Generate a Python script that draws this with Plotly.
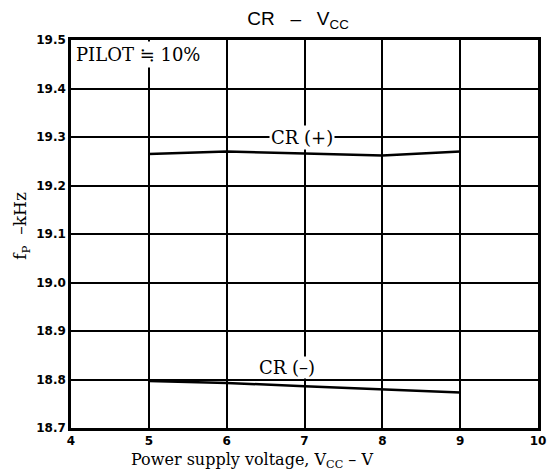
import plotly.graph_objects as go

# Supply voltage (V) and oscillation frequency f_P (kHz) for each CR setting
vcc = [5, 6, 7, 8, 9]
cr_plus = [19.265, 19.270, 19.266, 19.262, 19.270]
cr_minus = [18.797, 18.793, 18.786, 18.780, 18.773]

x_ticks = [4, 5, 6, 7, 8, 9, 10]
y_ticks = [18.7, 18.8, 18.9, 19.0, 19.1, 19.2, 19.3, 19.4, 19.5]

serif = "DejaVu Serif, Liberation Serif, serif"
sans = "DejaVu Sans, Liberation Sans, sans-serif"

fig = go.Figure()
for ys in (cr_plus, cr_minus):
    fig.add_trace(go.Scatter(x=vcc, y=ys, mode="lines",
                             line=dict(color="black", width=2.5),
                             showlegend=False, hoverinfo="skip"))

fig.update_layout(
    width=554, height=472,
    margin=dict(l=71, r=8, t=40, b=44),
    paper_bgcolor="white", plot_bgcolor="white",
    title=dict(text="CR   –   V<sub>CC</sub>", x=0.486,
               xanchor="center", xref="paper", y=0.975, yanchor="top",
               font=dict(family="Liberation Sans, Arial, sans-serif", size=19, color="black")),
    xaxis=dict(range=[4, 10], tickvals=x_ticks, ticktext=[str(v) for v in x_ticks],
               showgrid=True, gridcolor="black", gridwidth=2,
               showline=True, linecolor="black", linewidth=2.5, mirror=True,
               zeroline=False, ticks="", ticklen=0,
               tickfont=dict(family=sans, size=12, color="black", weight="bold")),
    yaxis=dict(range=[18.7, 19.5], tickvals=y_ticks,
               ticktext=[f"{v:.1f}" for v in y_ticks],
               showgrid=True, gridcolor="black", gridwidth=2,
               showline=True, linecolor="black", linewidth=2.5, mirror=True,
               zeroline=False, ticks="", ticklen=0,
               tickfont=dict(family=sans, size=12, color="black", weight="bold")),
)

# Axis titles
fig.add_annotation(text="Power supply voltage, V<sub>CC</sub> – V",
                   xref="paper", yref="paper", x=0.387, y=0,
                   xanchor="center", yanchor="top", yshift=-20, showarrow=False,
                   font=dict(family=serif, size=16, color="black"))
fig.add_annotation(text="f<sub>P</sub>  –kHz", xref="paper", yref="paper",
                   x=0, y=0.521, xanchor="center", yanchor="middle", xshift=-49,
                   textangle=-90, showarrow=False,
                   font=dict(family=serif, size=17, color="black"))

# In-plot labels
fig.add_annotation(text="PILOT ≒ 10%", x=4.03, y=19.5, xanchor="left", yanchor="top",
                   yshift=-1, showarrow=False, bgcolor="white", borderpad=2,
                   font=dict(family=serif, size=18, color="black"))
fig.add_annotation(text="CR (+)", x=6.97, y=19.3, xanchor="center", yanchor="middle",
                   showarrow=False, bgcolor="white", borderpad=1,
                   font=dict(family=serif, size=18, color="black"))
fig.add_annotation(text="CR (–)", x=6.78, y=18.8, xanchor="center", yanchor="bottom",
                   yshift=1, showarrow=False, bgcolor="white", borderpad=0,
                   font=dict(family=serif, size=18, color="black"))

fig.write_html("out.html")
